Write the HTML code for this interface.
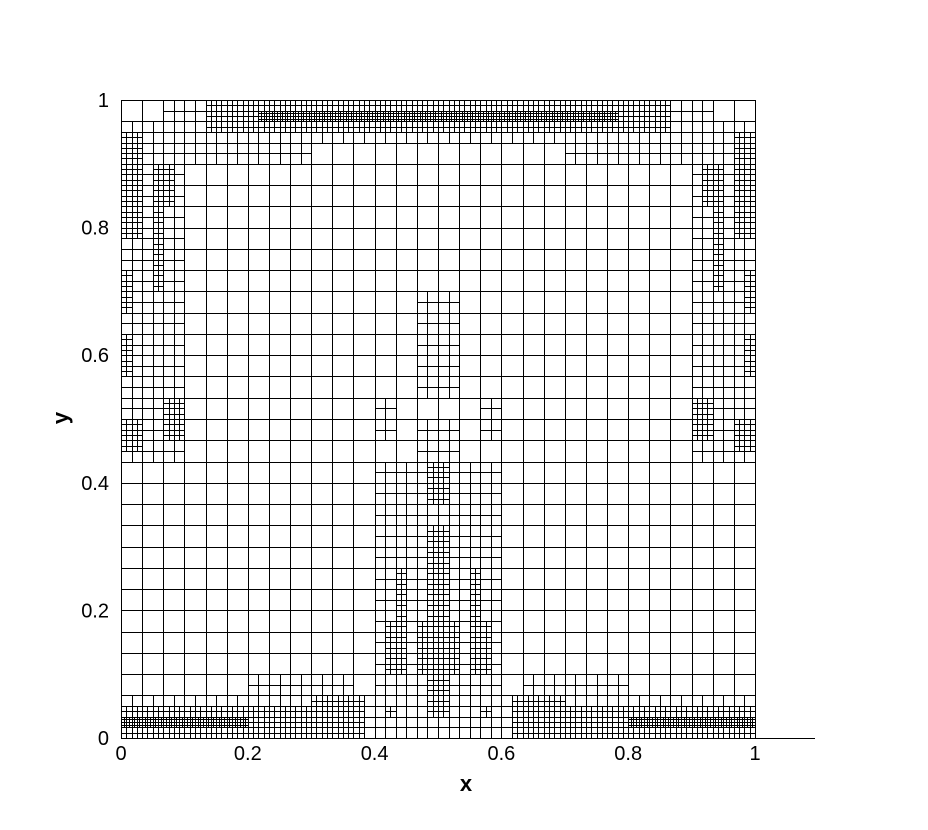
<!DOCTYPE html>
<html><head><meta charset="utf-8">
<style>
body{margin:0;background:#fff;}
svg{display:block;}
text{font-family:"Liberation Sans",sans-serif;fill:#000;}
</style></head>
<body>
<svg id="chart" width="928" height="830" viewBox="0 0 928 830" xmlns="http://www.w3.org/2000/svg">
<g id="mesh" fill="none" stroke="#000" stroke-width="1" shape-rendering="crispEdges"></g>
<g id="axes"></g>
</svg>
<script>
// refinement regions in base-cell units (30x30 base grid): [u0,v0,u1,v1,level]
const regionU0 = [0,3,2,4,6.5, 0,0,0,1.5,1.5,0,2.25, 0,0,0,6,9, 12,14,14,12,14.5,14.5,14.5,12.5,13,14,14.5,12.5,0];
const regionV0 = [28,27,29,28.5,29, 13,23.5,20,25,21,17,14, 0,0,0.5,2,0, 2,12,16,14,1,5.5,11,3,5.5,3,1,1,13.5];
const regionU1 = [15,9,15,15,15, 3,1,0.5,2.5,2,0.5,3, 15,10.5,6,11,11.5, 15,15,15,12.5,15,15,15,13.5,13.5,15,15,13,1];
const regionV1 = [29,28,30,30,29.5, 28.5,28.5,22,27,25,19,16, 2,1.5,1,3,2, 12.5,15,21,16,3,10,13,5.5,8,5.5,3,1.5,15];
const regionLevel = [1,1,1,2,3, 1,2,2,2,2,2,2, 1,2,3,1,2, 1,1,1,1,2,2,2,2,2,2,2,2,2];
const xTicks = [0,0.2,0.4,0.6,0.8,1];
const yTicks = [0,0.2,0.4,0.6,0.8,1];
const xTickLabels = ["0","0.2","0.4","0.6","0.8","1"];
const yTickLabels = ["0","0.2","0.4","0.6","0.8","1"];
const baseN = 30;
const maxLevel = 3;

const NS="http://www.w3.org/2000/svg";
const X0=121,X1=755,Y0=738,Y1=100;
const xs=d=>X0+d*(X1-X0);
const ys=d=>Y0-d*(Y0-Y1);
const us=u=>xs(u/baseN);
const vs=v=>ys(v/baseN);

const regions=[];
for(let i=0;i<regionLevel.length;i++){
  regions.push([regionU0[i],regionV0[i],regionU1[i],regionV1[i],regionLevel[i]]);
  regions.push([baseN-regionU1[i],regionV0[i],baseN-regionU0[i],regionV1[i],regionLevel[i]]);
}
function needsRefine(u,v,s,L){
  for(const r of regions){
    if(r[4]>L && r[0]<u+s-1e-9 && r[2]>u+1e-9 && r[1]<v+s-1e-9 && r[3]>v+1e-9) return true;
  }
  return false;
}
const mesh=document.getElementById('mesh');
let d='';
function cell(u,v,s,L){
  if(L<maxLevel && needsRefine(u,v,s,L)){
    const h=s/2;
    cell(u,v,h,L+1);cell(u+h,v,h,L+1);cell(u,v+h,h,L+1);cell(u+h,v+h,h,L+1);
    return;
  }
  const x0=Math.round(us(u))+0.5,x1=Math.round(us(u+s))+0.5;
  const y0=Math.round(vs(v))+0.5,y1=Math.round(vs(v+s))+0.5;
  d+=`M${x0} ${y0}H${x1}V${y1}H${x0}Z`;
}
for(let i=0;i<baseN;i++)for(let j=0;j<baseN;j++)cell(i,j,1,0);
const p=document.createElementNS(NS,'path');
p.setAttribute('d',d);


mesh.appendChild(p);

const axes=document.getElementById('axes');
function mk(tag,attrs,txt){
  const e=document.createElementNS(NS,tag);
  for(const k in attrs)e.setAttribute(k,attrs[k]);
  if(txt!==undefined)e.textContent=txt;
  axes.appendChild(e);return e;
}
const xl=mk('line',{x1:X0,y1:Y0+0.5,x2:815,y2:Y0+0.5,stroke:'#000','stroke-width':1,'shape-rendering':'crispEdges'});


xTicks.forEach((t,i)=>{
  const e=mk('text',{x:xs(t),y:Y0+22,'font-size':20,'text-anchor':'middle'},xTickLabels[i]);
  
  
});
yTicks.forEach((t,i)=>{
  const e=mk('text',{x:X0-12,y:ys(t)+7,'font-size':20,'text-anchor':'end'},yTickLabels[i]);
  
  
});
const xt=mk('text',{x:466,y:791,'font-size':22,'font-weight':'bold','text-anchor':'middle'},'x');


const yt=mk('text',{x:0,y:0,'font-size':22,'font-weight':'bold','text-anchor':'middle',transform:'translate(68,418) rotate(-90)'},'y');


</script>
</body></html>
